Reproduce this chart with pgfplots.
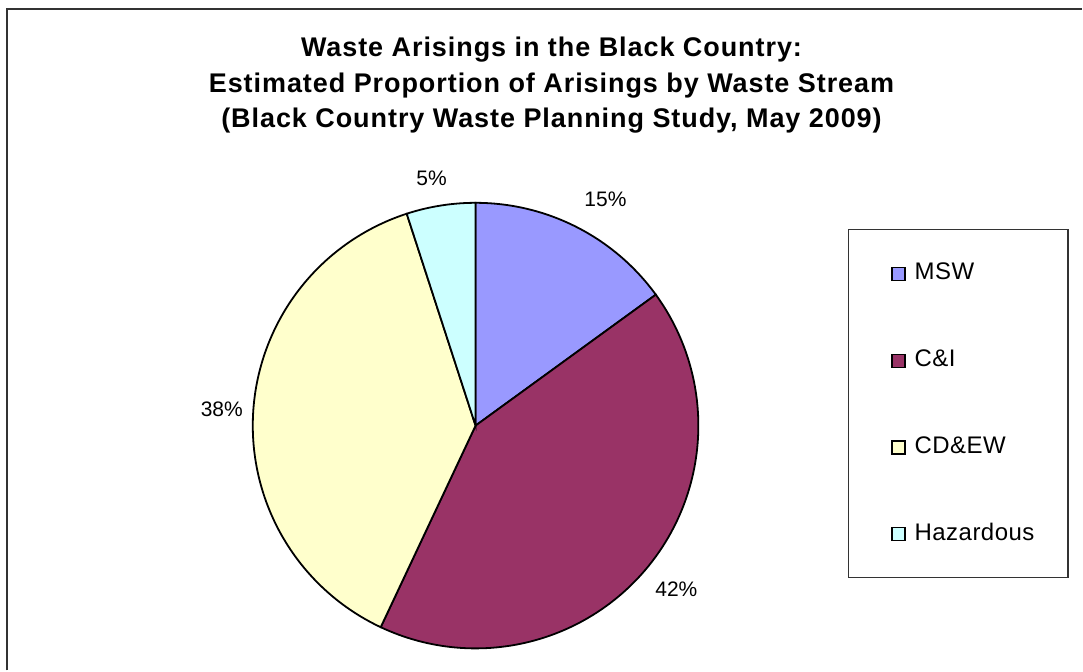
\documentclass[border=0pt]{standalone}
\usepackage{pgfplots}
\pgfplotsset{compat=1.18}
\usepackage{pgfplotstable}
\usepackage{fontspec}
\setmainfont{Liberation Sans}
\newfontfamily\titlefont[LetterSpace=3.5]{Liberation Sans}
\newfontfamily\legfont[LetterSpace=2]{Liberation Sans}
\definecolor{msw}{HTML}{9999FF}
\definecolor{ci}{HTML}{993366}
\definecolor{cdew}{HTML}{FFFFCC}
\definecolor{haz}{HTML}{CCFFFF}

\pgfplotstableread{
share
15
42
38
5
}\piedata

\begin{document}
\begin{tikzpicture}
\pgfplotstablegetelem{0}{share}\of\piedata \let\sA\pgfplotsretval
\pgfplotstablegetelem{1}{share}\of\piedata \let\sB\pgfplotsretval
\pgfplotstablegetelem{2}{share}\of\piedata \let\sC\pgfplotsretval
\pgfplotstablegetelem{3}{share}\of\piedata \let\sD\pgfplotsretval
\pgfmathsetmacro{\aA}{90}
\pgfmathsetmacro{\aB}{\aA-3.6*\sA}
\pgfmathsetmacro{\aC}{\aB-3.6*\sB}
\pgfmathsetmacro{\aD}{\aC-3.6*\sC}
\pgfmathsetmacro{\aE}{\aD-3.6*\sD}
\def\pcx{476}
\def\pcy{245}
\def\prr{223}
\begin{axis}[
  scale only axis, width=1083pt, height=671pt,
  xmin=0, xmax=1083, ymin=0, ymax=671,
  hide axis, clip=false,
  legend cell align=left,
  legend image code/.code={\draw[#1, line width=1.3pt] (0pt,-9pt) rectangle (13pt,4pt);},
  legend style={at={(axis cs:892,408)}, anchor=north west, draw=none, fill=none,
    inner sep=0pt, row sep=68.7pt, column sep=9pt,
    font=\legfont\fontsize{24}{28}\selectfont,
    nodes={inner sep=0pt, text height=17pt, text depth=0pt}},
]
\path (axis cs:0,0) rectangle (axis cs:1083,671);
% outer frame (top and left visible)
\draw[line width=2pt, black!80] (axis cs:7.5,0) -- (axis cs:7.5,662) -- (axis cs:1083,662);
% legend box
\draw[line width=1.2pt, black!80, fill=white] (axis cs:849,93) rectangle (axis cs:1069,441.5);

\addplot[fill=msw, draw=black, line width=1.8pt, domain=\aB:\aA, samples=80, variable=\t]
  ({\pcx+\prr*cos(\t)},{\pcy+\prr*sin(\t)}) -- (axis cs:\pcx,\pcy) -- cycle;
\addlegendentry{MSW}
\addplot[fill=ci, draw=black, line width=1.8pt, domain=\aC:\aB, samples=120, variable=\t]
  ({\pcx+\prr*cos(\t)},{\pcy+\prr*sin(\t)}) -- (axis cs:\pcx,\pcy) -- cycle;
\addlegendentry{C\&I}
\addplot[fill=cdew, draw=black, line width=1.8pt, domain=\aD:\aC, samples=120, variable=\t]
  ({\pcx+\prr*cos(\t)},{\pcy+\prr*sin(\t)}) -- (axis cs:\pcx,\pcy) -- cycle;
\addlegendentry{CD\&EW}
\addplot[fill=haz, draw=black, line width=1.8pt, domain=\aE:\aD, samples=40, variable=\t]
  ({\pcx+\prr*cos(\t)},{\pcy+\prr*sin(\t)}) -- (axis cs:\pcx,\pcy) -- cycle;
\addlegendentry{Hazardous}

% percentage labels
\node[font=\fontsize{21}{25}\selectfont] at (axis cs:606,471) {15\%};
\node[font=\fontsize{21}{25}\selectfont] at (axis cs:677,81) {42\%};
\node[font=\fontsize{21}{25}\selectfont] at (axis cs:222,261) {38\%};
\node[font=\fontsize{21}{25}\selectfont] at (axis cs:432,493) {5\%};

% title
\node[anchor=base, font=\titlefont\fontsize{27}{31}\selectfont\bfseries] at (axis cs:552,614) {Waste Arisings in the Black Country:};
\node[anchor=base, font=\titlefont\fontsize{27}{31}\selectfont\bfseries] at (axis cs:552,578) {Estimated Proportion of Arisings by Waste Stream};
\node[anchor=base, font=\titlefont\fontsize{27}{31}\selectfont\bfseries] at (axis cs:552,543) {(Black Country Waste Planning Study, May 2009)};
\end{axis}
\end{tikzpicture}
\end{document}
